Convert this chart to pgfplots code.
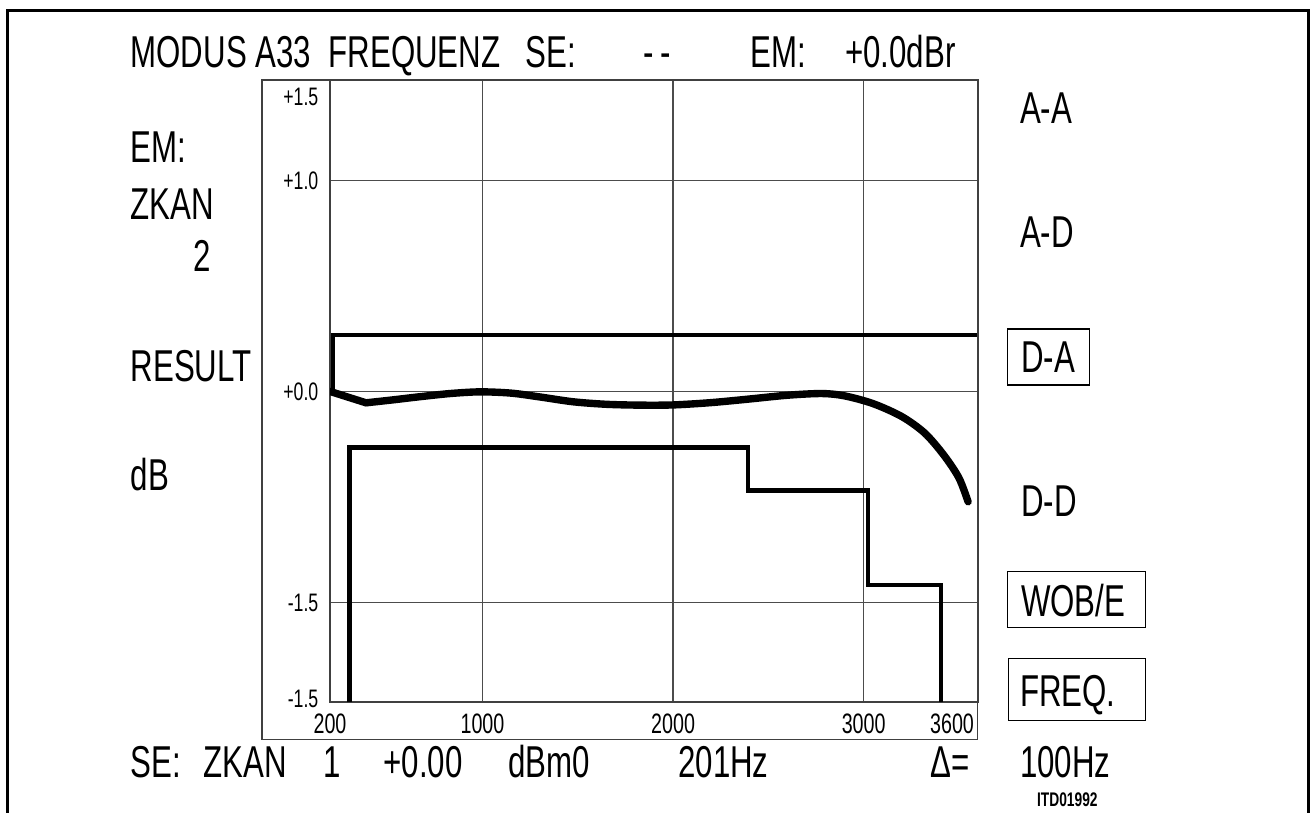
\documentclass[border=0pt]{standalone}
\usepackage{fontspec}
\setmainfont{Liberation Sans}[FakeStretch=0.7]
\usepackage{pgfplots}
\pgfplotsset{compat=1.18}

\begin{document}
\begin{tikzpicture}
\useasboundingbox (0,0) rectangle (13.11cm,8.13cm);

\begin{axis}[
    at={(3.30cm,1.11cm)}, anchor=south west,
    scale only axis,
    width=6.48cm, height=6.22cm,
    xmin=200, xmax=3600,
    ymin=-1.472, ymax=1.476,
    xtick={200,1000,2000,3000},
    xticklabels={200,1000,2000,3000},
    extra x ticks={3600},
    extra x tick labels={3600},
    extra x tick style={grid=none, xticklabel style={xshift=-0.26cm}},
    ytick={-1,0,1},
    yticklabels={\mbox{-1.5},\mbox{+0.0},\mbox{+1.0}},
    extra y ticks={-1.457,1.396},
    extra y tick labels={\mbox{-1.5},\mbox{+1.5}},
    extra y tick style={grid=none},
    major tick length=0pt,
    tick style={draw=none},
    grid=major,
    grid style={black!70, line width=0.42pt},
    axis line style={black!75, line width=0.45pt},
    xticklabel style={anchor=north, inner sep=0pt, yshift=-0.11cm, font=\fontsize{8}{9}\selectfont},
    yticklabel style={anchor=east, inner sep=0pt, xshift=-0.11cm, font=\fontsize{7.2}{8}\selectfont},
]

% upper limit
\addplot[black, line width=1.2pt] coordinates {
    (216,0) (216,0.268) (3600,0.268)
};

% lower limit
\addplot[black, line width=1.2pt] coordinates {
    (302,-1.472) (302,-0.266) (2392,-0.266) (2392,-0.470)
    (3021,-0.470) (3021,-0.917) (3404,-0.917) (3404,-1.472)
};

% measured response
\addplot[black, line width=2.1pt, line cap=round] coordinates {
    (200,0) (389,-0.054)
};
\addplot[black, line width=2.1pt, line cap=round, smooth] coordinates {
    (389,-0.054) (530,-0.040) (672,-0.025) (830,-0.010) (987,-0.002)
    (1150,-0.008) (1300,-0.026) (1475,-0.049) (1650,-0.061) (1827,-0.065)
    (2000,-0.064) (2200,-0.053) (2400,-0.036) (2600,-0.018) (2780,-0.010)
    (2900,-0.021) (3050,-0.058) (3200,-0.119) (3320,-0.197) (3420,-0.301)
    (3500,-0.410) (3548,-0.523)
};

\end{axis}

\begin{scope}[x=0.01cm, y=-0.01cm, shift={(0cm,8.13cm)}]
\tikzset{lbl/.style={anchor=base west, inner sep=0pt, font=\fontsize{12.7}{14}\selectfont}}

% page frame
\draw[line width=0.85pt] (7.5,813) -- (7.5,10.5) -- (1309.5,10.5) -- (1309.5,813);
% outer box round the diagram
\draw[black!75, line width=0.45pt] (262,80) rectangle (978,740);

% header
\node[lbl] at (130,68) {MODUS};
\node[lbl] at (255,68) {A33};
\node[lbl] at (328,68) {FREQUENZ};
\node[lbl] at (525,68) {SE:};
\node[lbl] at (643,68) {{-}\kern2pt{-}};
\node[lbl] at (750,68) {EM:};
\node[lbl] at (845,68) {+0.0dBr};

% left column
\node[lbl] at (130,163) {EM:};
\node[lbl] at (130,220) {ZKAN};
\node[lbl] at (193,272) {2};
\node[lbl] at (130,382) {RESULT};
\node[lbl] at (130,491) {dB};

% right column
\node[lbl] at (1020,124) {A-A};
\node[lbl] at (1020,248) {A-D};
\node[lbl] at (1021,373) {D-A};
\draw[line width=0.45pt] (1008,329) rectangle (1090,385);
\node[lbl] at (1021,517) {D-D};
\node[lbl] at (1021,617) {WOB/E};
\draw[line width=0.45pt] (1008,572) rectangle (1146,628);
\node[lbl] at (1020,707) {FREQ.};
\draw[line width=0.45pt] (1009,659) rectangle (1146,721);

% bottom line
\node[lbl] at (130,778) {SE:};
\node[lbl] at (203,778) {ZKAN};
\node[lbl] at (323,778) {1};
\node[lbl] at (383,778) {+0.00};
\node[lbl] at (508,778) {dBm0};
\node[lbl] at (678,778) {201Hz};
\node[lbl] at (930,778) {Δ=};
\node[lbl] at (1020,778) {100Hz};
\node[anchor=base west, inner sep=0pt, font=\fontsize{5.6}{6}\selectfont\bfseries] at (1037,807) {ITD01992};
\end{scope}
\end{tikzpicture}
\end{document}
